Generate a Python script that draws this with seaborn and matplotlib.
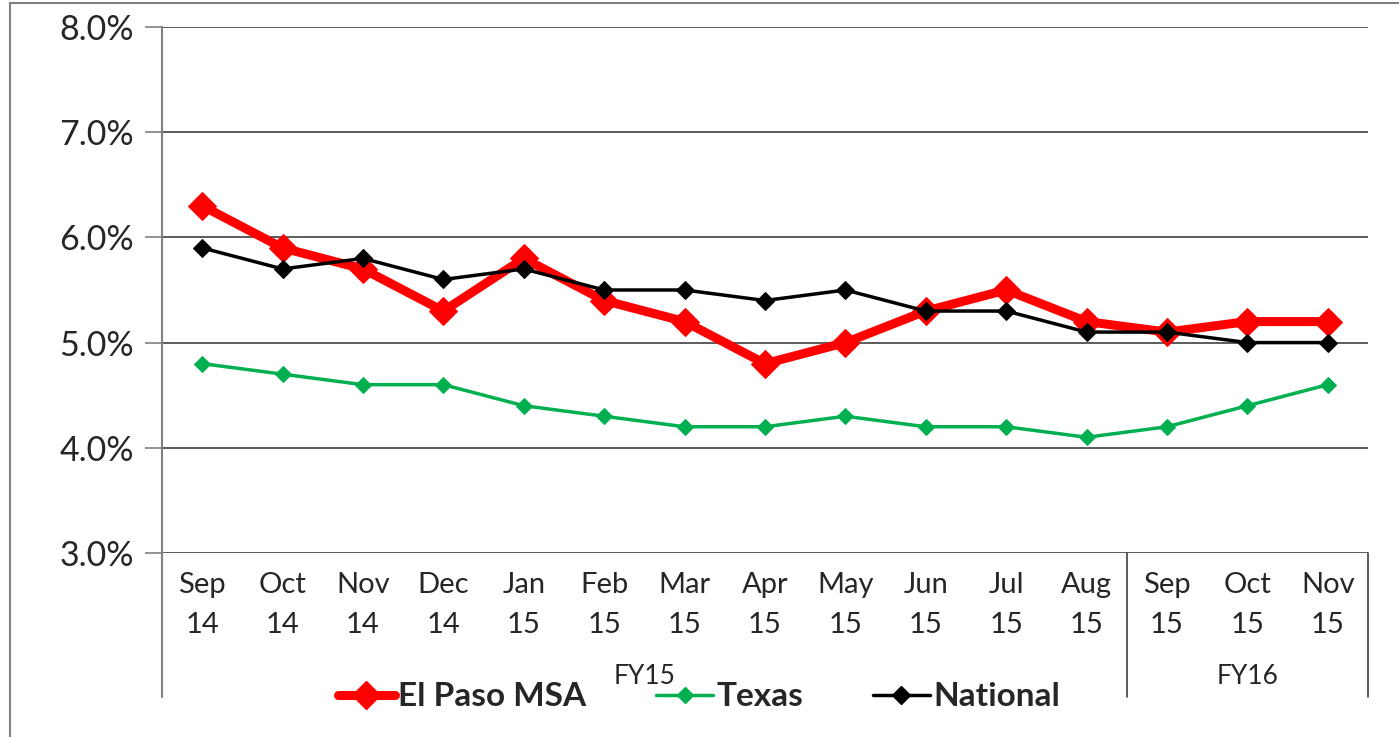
import matplotlib
matplotlib.use("Agg")
import matplotlib.pyplot as plt
import seaborn as sns
import pandas as pd
import numpy as np
from matplotlib.lines import Line2D
from matplotlib.patches import Rectangle

months = ["Sep", "Oct", "Nov", "Dec", "Jan", "Feb", "Mar", "Apr", "May", "Jun", "Jul", "Aug", "Sep", "Oct", "Nov"]
years = ["14", "14", "14", "14", "15", "15", "15", "15", "15", "15", "15", "15", "15", "15", "15"]
fiscal_groups = ["FY15", "FY16"]
fiscal_sizes = [12, 3]

el_paso = [6.3, 5.9, 5.7, 5.3, 5.8, 5.4, 5.2, 4.8, 5.0, 5.3, 5.5, 5.2, 5.1, 5.2, 5.2]
texas = [4.8, 4.7, 4.6, 4.6, 4.4, 4.3, 4.2, 4.2, 4.3, 4.2, 4.2, 4.1, 4.2, 4.4, 4.6]
national = [5.9, 5.7, 5.8, 5.6, 5.7, 5.5, 5.5, 5.4, 5.5, 5.3, 5.3, 5.1, 5.1, 5.0, 5.0]

sns.set_theme(style="white")
plt.rcParams['font.family'] = ['Lato', 'DejaVu Sans']

fig = plt.figure(figsize=(13.99, 7.37), dpi=100)
ax = fig.add_axes([162/1399, 1-553/737, (1368-162)/1399, (553-27)/737])

x = np.arange(len(months))
df = pd.DataFrame({"x": x, "El Paso MSA": el_paso, "Texas": texas, "National": national})

styles = {
    "El Paso MSA": dict(color="#FF0000", lw=6.5, ms=14),
    "Texas": dict(color="#00B050", lw=2.5, ms=8),
    "National": dict(color="#000000", lw=2.5, ms=9),
}
order = ["Texas", "National", "El Paso MSA"]
for name in order:
    st = styles[name]
    sns.lineplot(data=df, x="x", y=name, ax=ax, color=st["color"], linewidth=st["lw"],
                 marker="D", markersize=st["ms"], markeredgecolor=st["color"], zorder=3 if name != "National" else 4)

ax.set_xlim(-0.5, len(months) - 0.5)
ax.set_ylim(3.0, 8.0)
ax.set_yticks([3, 4, 5, 6, 7, 8])
ax.set_yticklabels([f"{v:.1f}%" for v in [3, 4, 5, 6, 7, 8]], fontsize=24.5)
ax.yaxis.grid(True, color="#404040", lw=1.2)
ax.xaxis.grid(False)
ax.tick_params(axis="y", length=12, color="#808080", width=1.2, left=True, pad=8)
ax.set_xticks(x)
ax.set_xticklabels([f"{m}\n{y}" for m, y in zip(months, years)], fontsize=21, linespacing=1.65)
ax.tick_params(axis="x", length=0, pad=14)
ax.set_xlabel("")
ax.set_ylabel("")
for s in ["top", "right", "bottom"]:
    ax.spines[s].set_visible(False)
ax.spines["left"].set_color("#808080")
ax.spines["left"].set_linewidth(1.5)

# group separators below axis
tr = ax.get_xaxis_transform()
depth = -(697 - 553) / (553 - 27)
bounds = [-0.5]
for sz in fiscal_sizes:
    bounds.append(bounds[-1] + sz)
for b in bounds:
    ax.plot([b, b], [0, depth], transform=tr, color="#404040" if b != -0.5 else "#808080",
            lw=1.2 if b != -0.5 else 1.5, clip_on=False)
for i, g in enumerate(fiscal_groups):
    cx = (bounds[i] + bounds[i + 1]) / 2
    ax.text(cx, -(676 - 553) / (553 - 27), g, transform=tr, ha="center", va="center", fontsize=19)

handles = [Line2D([], [], color=styles[n]["color"], lw=styles[n]["lw"], marker="D",
                  markersize=styles[n]["ms"], markeredgecolor=styles[n]["color"])
           for n in ["El Paso MSA", "Texas", "National"]]
fig.legend(handles, ["El Paso MSA", "Texas", "National"], loc="center", ncol=3,
           bbox_to_anchor=(699/1399, 1-697/737), frameon=False,
           prop={"weight": "bold", "size": 24}, handlelength=1.7, handletextpad=0.1,
           columnspacing=2.1)

fig.patches.append(Rectangle((10/1399, -0.05), 1.1, 1 - 3/737 + 0.05, transform=fig.transFigure,
                             fill=False, edgecolor="#808080", lw=1.5))

fig.savefig("out.png", dpi=100)
